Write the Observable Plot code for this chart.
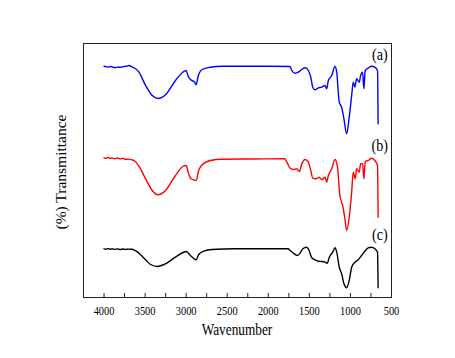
<!DOCTYPE html>
<html>
<head>
<meta charset="utf-8">
<script src="https://cdn.jsdelivr.net/npm/d3@7"></script>
<script src="https://cdn.jsdelivr.net/npm/@observablehq/plot@0.6"></script>
<style>
  html, body { margin: 0; padding: 0; background: white; }
</style>
</head>
<body>
<script>
// Wavenumber (cm-1) and relative transmittance (offset per spectrum)
const wnA = [4000,3975,3950,3925,3900,3870,3840,3800,3760,3720,3697,3660,3620,3575,3494,3413,3345,3251,3130,3041,3000,2976,2948,2896,2879,2854,2806,2705,2563,2280,2000,1734,1714,1674,1634,1592,1552,1512,1483,1459,1431,1391,1350,1310,1289,1269,1228,1188,1167,1136,1107,1079,1046,1015,985,966,945,925,893,876,852,836,820,784,743,703,670,663];
const tA = [231.3,230.8,230.4,231,230.6,229.8,230.4,230.2,231,231.4,232,230.6,229,225.3,212,202,199,202.7,217,225.3,227,221.3,218,215.3,212.7,221.3,228,230.3,231.3,231.3,231.2,231,227,224.3,225.3,228,229.7,227,220.3,210.3,207.7,209.7,210.3,212,208.7,217,222,231,225.3,195.3,190.3,178.7,163.7,180.3,202,215.3,210.3,218.7,215.3,222,225.3,208.7,227,229.3,231.3,230.3,227,173.7];

const wnB = [4000,3975,3950,3925,3900,3870,3840,3800,3770,3740,3700,3660,3636,3575,3494,3413,3345,3251,3130,3041,3000,2976,2948,2908,2875,2854,2814,2705,2563,2200,1800,1774,1734,1694,1653,1621,1592,1552,1512,1483,1459,1419,1379,1350,1310,1289,1269,1228,1188,1160,1128,1095,1067,1046,1015,985,966,941,925,893,876,852,836,820,784,743,703,670,663];
const tB = [139.7,139.2,140,139.1,139.6,138.8,139.5,138.6,139.2,138.2,138.4,137.6,137,131.3,118.7,107,102.7,107,122,131,132,125.3,119.3,117.7,117,125.3,132,137,138.3,138.5,138.7,135.3,129.3,128,128.7,126,133.7,138,135.3,127,119.3,118.7,120.3,117.7,120.3,115.3,122,128.7,138,132,102,92,78.7,67,80.3,105.3,125.3,118.7,128.7,125.3,133.7,133.7,118.7,136,137,139.3,137,132,80.3];

const wnC = [4000,3975,3950,3925,3900,3870,3840,3800,3770,3740,3700,3660,3636,3575,3494,3433,3352,3251,3130,3017,3000,2948,2879,2847,2786,2684,2400,2000,1760,1734,1694,1646,1613,1580,1532,1500,1471,1431,1391,1350,1310,1282,1257,1216,1188,1167,1136,1107,1079,1046,1015,985,945,905,864,824,784,743,703,670,663];
const tC = [48.7,48.3,48.9,48.2,48.7,48.1,48.6,48,48.5,48.1,48.4,48.2,47.7,44.3,37.7,33,31,33.7,40.3,45.7,46,42,37.7,43,46.3,48,48.7,48.7,48.7,47,44.3,42,44.3,48.7,50.3,46.3,39.7,37.7,36.3,36,35.3,34.3,40.3,45.3,49.7,45.3,30.3,23.7,13.7,9.7,17,30.3,35.3,37.7,42,46.3,49.7,50.3,48.7,45.3,9.7];

const seriesLabels = ["(a)", "(b)", "(c)"];
const labelWn = [642, 642, 642];
const labelT = [243, 152, 63];

const xTickLabels = [4000, 3500, 3000, 2500, 2000, 1500, 1000, 500];
const xTickMarks = [4000, 3750, 3500, 3250, 3000, 2750, 2500, 2250, 2000, 1750, 1500, 1250, 1000, 750, 500];

const xTitle = "Wavenumber";
const yTitle = "(%) Transmittance";

const toRows = (wn, t) => wn.map((w, i) => ({wn: w, t: t[i]}));
const rowsA = toRows(wnA, tA);
const rowsB = toRows(wnB, tB);
const rowsC = toRows(wnC, tC);
const labelRows = seriesLabels.map((s, i) => ({s, wn: labelWn[i], t: labelT[i]}));

const FONT = "'Liberation Serif', 'Times New Roman', serif";

const chart = Plot.plot({
  width: 455,
  height: 358,
  marginLeft: 83,
  marginRight: 64,
  marginTop: 43,
  marginBottom: 61,
  style: {fontFamily: FONT, background: "white", color: "black", overflow: "visible"},
  x: {domain: [4250, 500]},
  y: {domain: [0, 254], axis: null},
  marks: [
    Plot.ruleX(xTickMarks, {x: d => d, y1: 0, y2: 4, stroke: "#222", strokeWidth: 1}),
    Plot.axisX(xTickLabels, {tickSize: 0, tickPadding: 8, fontSize: 13, label: null, tickFormat: d => String(d)}),
    Plot.line(rowsA, {x: "wn", y: "t", stroke: "#0000ff", strokeWidth: 1.4, curve: "monotone-x"}),
    Plot.line(rowsB, {x: "wn", y: "t", stroke: "#ff0000", strokeWidth: 1.4, curve: "monotone-x"}),
    Plot.line(rowsC, {x: "wn", y: "t", stroke: "#000000", strokeWidth: 1.4, curve: "monotone-x"}),
    Plot.text(labelRows, {x: "wn", y: "t", text: "s", fontSize: 17, fill: "black"}),
    Plot.frame({stroke: "#222", strokeWidth: 1})
  ]
});

document.body.append(chart);

const svg = d3.select(chart);
const xr = chart.scale("x").range;
const yr = chart.scale("y").range;

svg.append("text")
  .attr("x", (xr[0] + xr[1]) / 2)
  .attr("y", 335)
  .attr("text-anchor", "middle")
  .attr("font-family", FONT)
  .attr("font-size", 16)
  .attr("fill", "black")
  .attr("class", "squeeze")
  .text(xTitle);

svg.append("text")
  .attr("transform", `translate(66,${(yr[0] + yr[1]) / 2 + 2}) rotate(-90)`)
  .attr("text-anchor", "middle")
  .attr("font-family", FONT)
  .attr("font-size", 15.5)
  .attr("fill", "black")
  .text(yTitle);

function squeeze(sel, k) {
  sel.each(function() {
    const len = this.getComputedTextLength();
    if (len > 0) {
      d3.select(this).attr("textLength", len * k).attr("lengthAdjust", "spacingAndGlyphs");
    }
  });
}
squeeze(svg.selectAll("g[aria-label='x-axis tick label'] text"), 0.8);
squeeze(svg.selectAll("g[aria-label='text'] text"), 0.83);
squeeze(svg.selectAll("text.squeeze"), 0.83);
</script>
</body>
</html>
